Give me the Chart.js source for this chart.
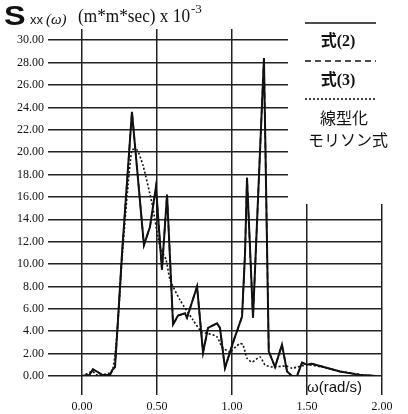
<!DOCTYPE html>
<html>
<head>
<meta charset="utf-8">
<script src="https://cdn.jsdelivr.net/npm/chart.js@4/dist/chart.umd.min.js"></script>
<style>
  html, body { margin: 0; padding: 0; background: #fff; }
  #wrap { width: 408px; height: 414px; }
</style>
</head>
<body>
<div id="wrap"><canvas id="chart" width="408" height="414"></canvas></div>
<script>
// --- データ (ω[rad/s], Sxx x 10^-3) ---
const xTicks = [0, 0.5, 1.0, 1.5, 2.0];
const yTicks = [0, 2, 4, 6, 8, 10, 12, 14, 16, 18, 20, 22, 24, 26, 28, 30];
const seriesNames = ['式(2)', '式(3)', '線型化モリソン式'];

const omega2 = [0, 0.05, 0.073, 0.1, 0.133, 0.187, 0.2, 0.22, 0.24, 0.267, 0.333, 0.413, 0.453, 0.493, 0.533, 0.567,
    0.607, 0.64, 0.687, 0.7, 0.767, 0.807, 0.84, 0.9, 0.92, 0.953, 1.007, 1.067, 1.087, 1.1, 1.14, 1.213,
    1.245, 1.287, 1.333, 1.367, 1.4, 1.433, 1.467, 1.5, 1.533, 1.587, 1.72, 1.853, 1.96];
const sxx2 = [0, 0.1, 0.6, 0.4, 0.1, 0.1, 0.5, 0.8, 5, 11, 23.6, 11.7, 13.3, 16.9, 9.5, 16.2,
    4.6, 5.4, 5.6, 5.2, 8.0, 2.1, 4.3, 4.7, 4.3, 0.7, 3.0, 5.3, 11, 17.7, 5.2, 28.4,
    2.2, 0.8, 2.8, 0.4, 0, 0, 1.2, 1.0, 1.1, 0.9, 0.4, 0.1, 0];

// 式(3) は図中で式(2)とほぼ重なる
const omega3 = omega2;
const sxx3 = sxx2;

const omegaM = [0, 0.07, 0.1, 0.2, 0.24, 0.267, 0.3, 0.333, 0.367, 0.407, 0.467, 0.52, 0.56, 0.587, 0.653,
    0.74, 0.8, 0.84, 0.9, 0.933, 0.987, 1.0, 1.053, 1.073, 1.1, 1.133, 1.187, 1.22, 1.273, 1.36, 1.4,
    1.5, 1.6, 1.73, 1.87, 1.96];
const sxxM = [0, 0.4, 0.1, 0.4, 5, 10.5, 16, 20.2, 20.2, 18.8, 15.4, 11.5, 10.4, 8.6, 6.8,
    5.0, 3.9, 3.8, 3.5, 2.6, 2.1, 2.3, 2.9, 2.8, 1.6, 1.25, 1.7, 1.0, 0.8, 0.9, 0.7,
    1.0, 0.8, 0.4, 0.1, 0];

const toPoints = (xs, ys) => xs.map((x, i) => ({ x: x, y: ys[i] }));

const serif = '"Liberation Serif", "DejaVu Serif", serif';
const ink = '#111';

// 凡例エリアを白く抜いて、凡例・タイトルを描く
const decor = {
    id: 'decor',
    beforeDatasetsDraw(chart) {
        const ctx = chart.ctx;
        ctx.save();
        ctx.fillStyle = '#fff';
        ctx.fillRect(288, 0, 120, 204);
        ctx.restore();
    },
    afterDraw(chart) {
        const ctx = chart.ctx;
        ctx.save();
        ctx.fillStyle = ink;
        ctx.strokeStyle = ink;
        ctx.textBaseline = 'alphabetic';

        // 縦軸タイトル (大きな S を少し横に伸ばす)
        ctx.save();
        ctx.translate(4, 25);
        ctx.scale(1.2, 1);
        ctx.font = 'bold 27px "Liberation Sans", sans-serif';
        ctx.fillText('S', 0, 0);
        ctx.restore();
        ctx.font = '13px "Liberation Sans", sans-serif';
        ctx.fillText('xx', 30, 24);
        ctx.font = 'italic 15px "Liberation Serif", serif';
        ctx.fillText('(\u03C9)', 46, 24);

        // 単位 (幅を参照に合わせて横に伸ばす)
        ctx.font = '18px ' + serif;
        const unit = '(m*m*sec) x 10';
        const w = ctx.measureText(unit).width;
        const targetW = 112;
        ctx.save();
        ctx.translate(78, 22);
        ctx.scale(targetW / w, 1);
        ctx.fillText(unit, 0, 0);
        ctx.restore();
        ctx.font = '13px ' + serif;
        ctx.fillText('-3', 78 + targetW + 1, 13);

        // 横軸タイトル
        ctx.font = '15px "Liberation Sans", sans-serif';
        ctx.fillText('\u03C9(rad/s)', 307, 392);

        // 凡例
        ctx.lineWidth = 1.6;
        const lx0 = 305, lx1 = 376;
        const drawLine = (y, dash) => {
            ctx.setLineDash(dash);
            ctx.beginPath();
            ctx.moveTo(lx0, y);
            ctx.lineTo(lx1, y);
            ctx.stroke();
        };
        drawLine(23, []);
        drawLine(61, [6, 4]);
        drawLine(99, [2, 2]);
        ctx.setLineDash([]);

        ctx.textAlign = 'center';
        ctx.font = 'bold 16px ' + serif + ', "Noto Sans CJK JP"';
        ctx.fillText('式(2)', 338, 46);
        ctx.fillText('式(3)', 338, 85);
        ctx.font = '16px "Noto Sans CJK JP"';
        ctx.fillText('線型化', 344, 124);
        ctx.fillText('モリソン式', 348, 146);
        ctx.restore();
    }
};

new Chart(document.getElementById('chart').getContext('2d'), {
    type: 'line',
    data: {
        datasets: [
            {
                label: seriesNames[0],
                data: toPoints(omega2, sxx2),
                borderColor: ink,
                borderWidth: 2,
                pointRadius: 0,
                tension: 0,
                order: 0
            },
            {
                label: seriesNames[1],
                data: toPoints(omega3, sxx3),
                borderColor: ink,
                borderWidth: 1.6,
                borderDash: [6, 4],
                pointRadius: 0,
                tension: 0,
                order: 1
            },
            {
                label: seriesNames[2],
                data: toPoints(omegaM, sxxM),
                borderColor: ink,
                borderWidth: 1.6,
                borderDash: [2, 2],
                pointRadius: 0,
                tension: 0.2,
                order: 2
            }
        ]
    },
    options: {
        responsive: false,
        animation: false,
        layout: { padding: { top: 29, right: 26, left: 0, bottom: 0 } },
        plugins: {
            legend: { display: false },
            tooltip: { enabled: false }
        },
        scales: {
            x: {
                type: 'linear',
                min: 0,
                max: 2,
                afterBuildTicks: (scale) => { scale.ticks = xTicks.map(v => ({ value: v })); },
                afterFit: (scale) => { scale.height = 38; },
                border: { display: false },
                grid: { color: '#222', lineWidth: 1.5, tickLength: 19 },
                ticks: {
                    color: ink,
                    padding: 5,
                    maxRotation: 0,
                    font: { family: serif, size: 12 },
                    callback: (v) => Number(v).toFixed(2)
                }
            },
            y: {
                min: 0,
                max: 31,
                afterBuildTicks: (scale) => { scale.ticks = yTicks.map(v => ({ value: v })); },
                afterFit: (scale) => { scale.width = 82; },
                border: { display: false },
                grid: { color: '#222', lineWidth: 1.5, tickLength: 34 },
                ticks: {
                    color: ink,
                    padding: 4,
                    font: { family: serif, size: 12 },
                    callback: (v) => Number(v).toFixed(2)
                }
            }
        }
    },
    plugins: [decor]
});
</script>
</body>
</html>
